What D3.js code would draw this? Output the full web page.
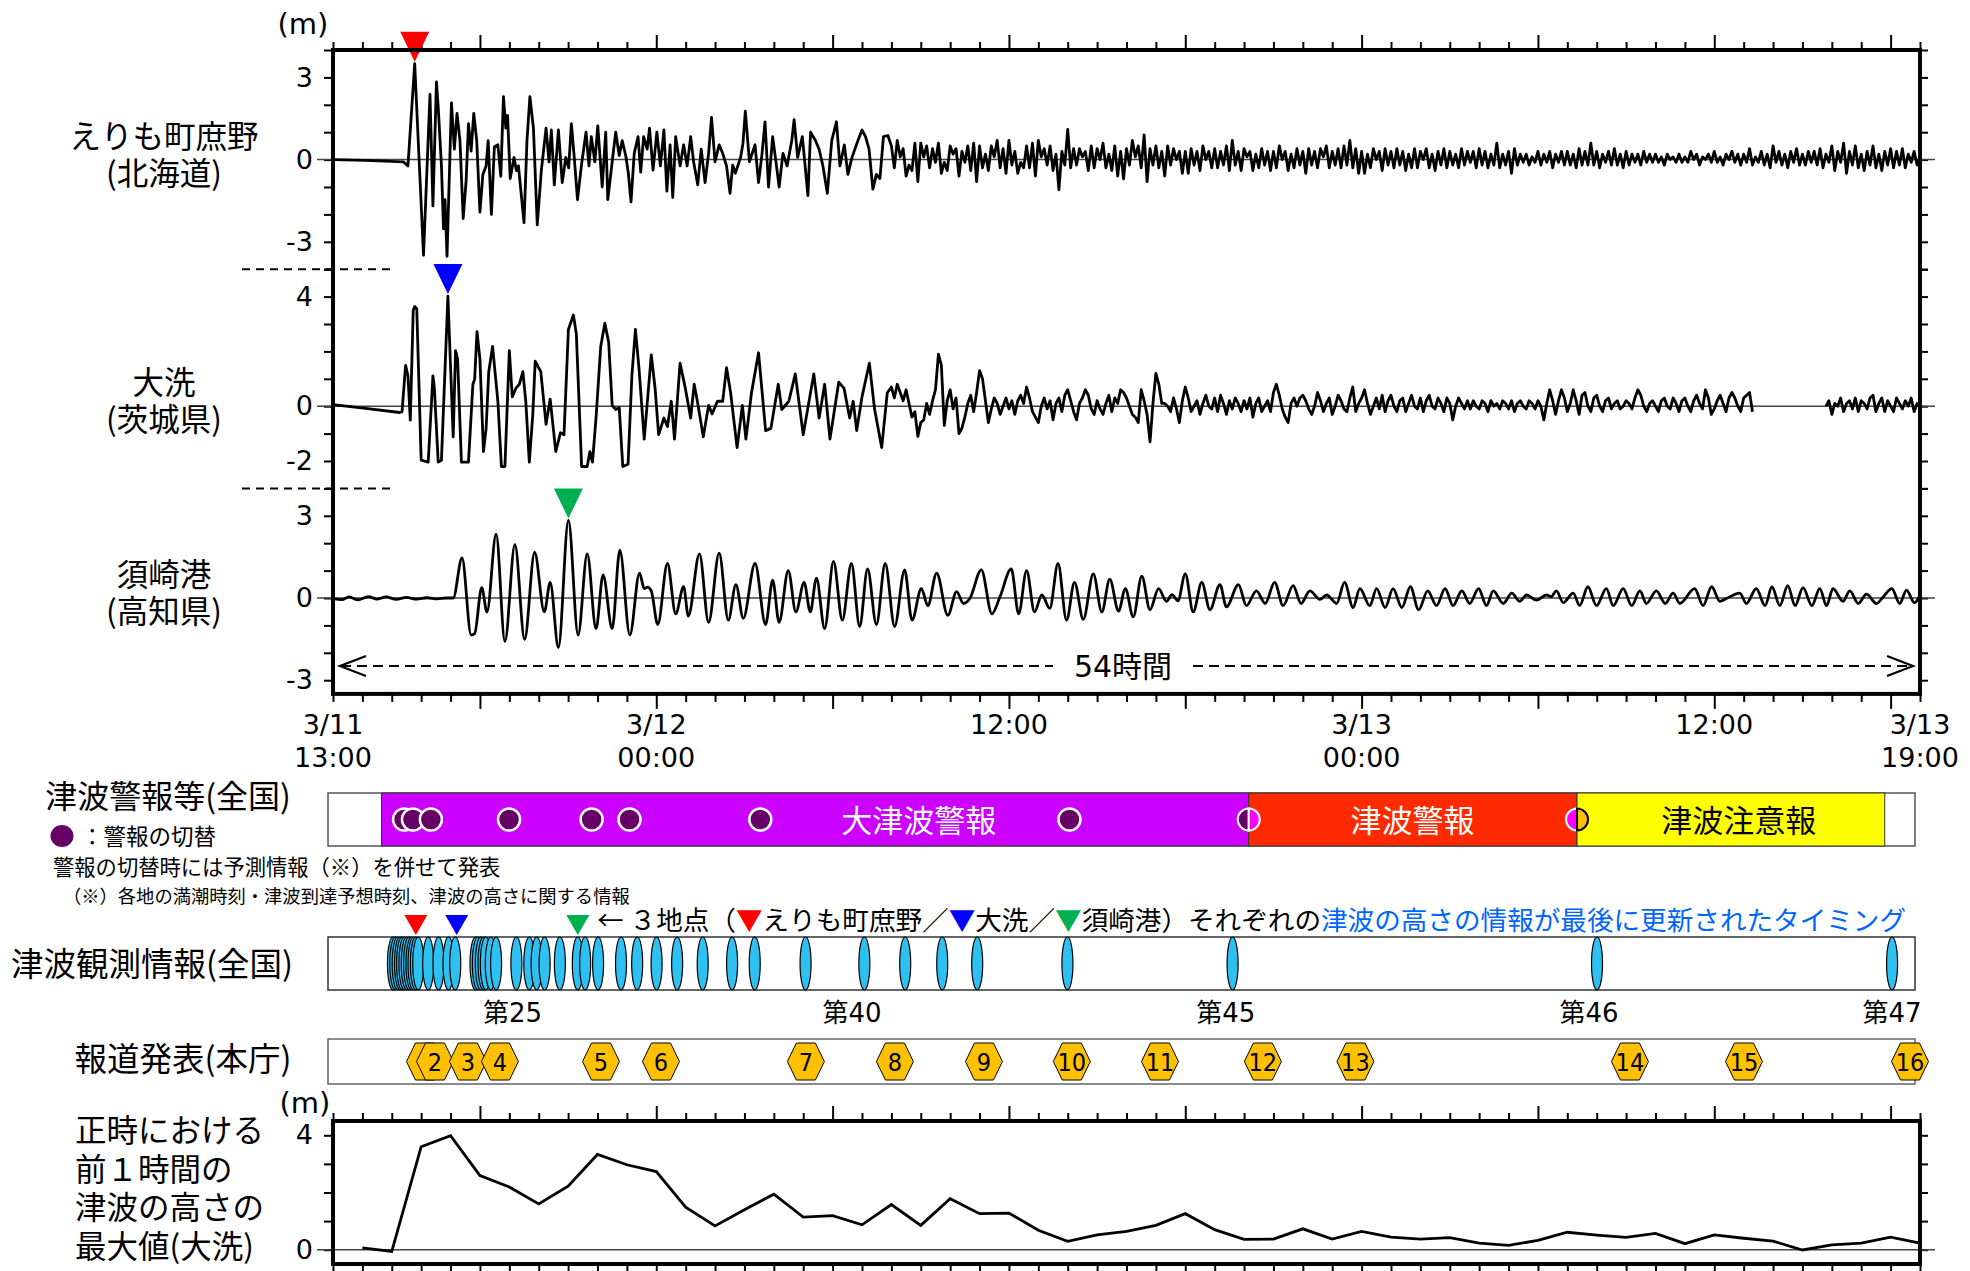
<!DOCTYPE html>
<html>
<head>
<meta charset="utf-8">
<script src="https://cdn.jsdelivr.net/npm/d3@7"></script>
<style>
  body { margin: 0; background: #fff; }
  svg { font-family: 'DejaVu Sans', 'Noto Sans CJK JP', sans-serif; }
  .jp { font-family: 'Noto Sans CJK JP', sans-serif; }
</style>
</head>
<body>
<svg id="chart" width="1970" height="1271"></svg>
<script>
// time is in hours after 3/11 13:00, heights in metres

// えりも町庶野: peaks and troughs
const erimoEarly = [[0,0],[1.12,-0.03],[2.39,-0.08],[2.55,-0.23],[2.78,3.5],[3.08,-3.49],[3.3,2.38],[3.4,-1.69],[3.52,2.84],[3.58,1.92],[3.69,-0.23],[3.76,-2.53],[3.81,-1.46],[3.88,-3.53],[4.03,2.07],[4.13,0.38],[4.22,1.69],[4.32,0.69],[4.43,-2.15],[4.53,-0.77],[4.61,1.31],[4.7,0.31],[4.79,1.69],[4.89,0.69],[5,-1.92],[5.1,-0.54],[5.21,-0.23],[5.28,0.69],[5.39,-2],[5.49,0.46],[5.61,0.54],[5.71,-0.61],[5.8,2.3],[5.88,1.15],[5.94,1.61],[6.03,-0.69],[6.16,0.08],[6.24,-0.4],[6.31,-0.23],[6.5,-2.3],[6.6,0.69],[6.7,2.3],[6.82,1.15],[6.95,-2.38],[7.09,-0.38],[7.25,1.15],[7.35,-0.08],[7.43,1.08],[7.53,-0.92],[7.67,1.08],[7.8,-0.84],[7.92,0.08],[8.02,-0.3],[8.11,1.31],[8.2,0.2],[8.32,-1.46],[8.46,-0.15],[8.61,1],[8.71,-0.23],[8.79,0.84],[8.91,-0.08],[9.01,1.23],[9.16,-1],[9.28,1],[9.35,-1.46],[9.5,-0.08],[9.62,1],[9.74,0.15],[9.84,0.69],[9.96,0.15],[10.05,-0.5],[10.14,-1.54],[10.25,0.23],[10.38,0.84],[10.47,-0.46],[10.57,0.84],[10.69,0.38],[10.77,1.15],[10.89,-0.38],[11.02,1],[11.14,-0.23],[11.26,1.08],[11.36,-1.15],[11.47,0.54],[11.56,-1.38],[11.66,0.84],[11.81,-0.23],[11.93,0.54],[12.05,-0.23],[12.17,0.84],[12.27,-0.08],[12.41,-0.92],[12.53,0.38],[12.66,-0.84],[12.78,0.23],[12.88,1.54],[13,-0.08],[13.14,0.54],[13.26,0.23],[13.39,-0.23],[13.51,-1.23],[13.6,-0.2],[13.69,-0.5],[13.87,0.08],[13.95,0.6],[14.03,1.77],[14.17,-0.08],[14.36,0.54],[14.48,-0.84],[14.6,0.23],[14.7,1.38],[14.82,-1],[14.96,0.84],[15.09,-0.23],[15.18,-1],[15.31,0.23],[15.45,-0.23],[15.61,0.69],[15.69,1.46],[15.81,0.08],[15.97,0.84],[16.16,-1.31],[16.25,1],[16.42,0.69],[16.54,0.38],[16.67,-0.23],[16.82,-1.23],[16.97,0.69],[17.13,1.38],[17.25,-0.23],[17.4,0.54],[17.52,-0.54],[17.66,0.08],[17.86,0.69],[18,1.08],[18.12,0.84],[18.24,0.38],[18.37,-1.08],[18.49,-0.54],[18.61,-0.69],[18.73,0.84],[18.88,0.88]]
// from 3/12 08:00 on, one value every 6 minutes
const erimoLate = [
  0.5,-0.3,0.7,0.1,0.4,-0.6,-0.2,-0.4,0.6,-0.8,
  0.6,0.1,0.5,-0.3,0.4,-0.1,0.6,-0.5,-0.1,-0.4,
  0.5,0.2,0.4,-0.6,0.3,-0.1,0.5,-0.4,0.6,-0.8,
  0.5,-0.3,0.2,-0.4,0.5,0.1,0.7,-0.3,0.4,-0.5,
  0.7,-0.2,0.3,-0.5,-0.1,-0.3,0.5,-0.3,0.6,-0.6,
  0.7,0.1,0.4,-0.2,0.5,-0.4,0.2,-1.1,0.3,-0.2,
  1.1,-0.3,0.4,-0.2,0.4,0.1,0.3,-0.4,0.5,-0.3,
  0.4,0.0,0.6,-0.3,0.2,-0.4,0.5,-0.6,0.3,-0.7,
  0.4,-0.2,0.7,0.1,0.5,-0.3,0.9,-0.8,0.4,-0.2,
  0.5,-0.3,0.3,-0.6,0.5,-0.2,0.4,0.0,0.3,-0.5,
  0.3,-0.5,0.4,-0.2,0.3,-0.4,0.5,0.0,0.3,-0.3,
  0.4,-0.3,0.3,-0.2,0.5,-0.4,0.7,-0.2,0.3,-0.4,
  0.4,0.1,0.3,-0.4,0.2,-0.3,0.4,-0.2,0.3,-0.4,
  0.3,-0.3,0.5,0.0,0.3,-0.4,0.2,-0.3,0.4,-0.2,
  0.3,-0.5,0.4,-0.2,0.3,-0.3,0.4,0.1,0.5,-0.3,
  0.3,-0.2,0.4,-0.3,0.5,-0.2,0.7,-0.3,0.4,-0.5,
  0.3,-0.5,0.2,-0.3,0.4,0.0,0.3,-0.4,0.4,-0.2,
  0.3,-0.3,0.4,-0.2,0.3,-0.4,0.2,-0.3,0.4,-0.3,
  0.3,0.0,0.4,-0.3,0.2,-0.4,0.3,-0.2,0.4,-0.3,
  0.3,-0.2,0.2,-0.3,0.4,-0.2,0.3,-0.1,0.3,-0.3,
  0.4,-0.2,0.3,-0.3,0.2,-0.2,0.6,-0.3,0.2,-0.2,
  0.3,-0.5,0.4,-0.2,0.2,-0.1,0.2,-0.2,0.1,-0.1,
  0.3,-0.2,0.2,-0.1,0.3,-0.3,0.2,-0.1,0.3,-0.2,
  0.3,-0.2,0.2,-0.3,0.4,-0.2,0.3,-0.2,0.6,-0.2,
  0.3,-0.3,0.2,-0.1,0.3,-0.2,0.4,-0.2,0.2,-0.3,
  0.3,-0.2,0.2,-0.1,0.2,-0.2,0.3,-0.1,0.2,-0.1,
  0.2,-0.1,0.1,-0.2,0.2,0.0,0.1,-0.1,0.2,-0.1,
  0.1,-0.1,0.3,0.0,0.2,-0.2,0.1,0.0,0.2,-0.1,
  0.3,-0.1,0.1,-0.2,0.2,0.0,0.3,-0.1,0.2,-0.2,
  0.2,-0.1,0.4,-0.2,0.1,-0.1,0.3,-0.2,0.2,-0.3,
  0.5,-0.1,0.3,-0.2,0.2,-0.3,0.3,-0.1,0.4,-0.2,
  0.2,-0.2,0.3,-0.1,0.3,-0.2,0.4,-0.3,0.2,-0.1,
  0.5,-0.4,0.3,-0.1,0.6,-0.5,0.3,-0.2,0.5,-0.3,
  0.2,-0.4,0.3,-0.2,0.5,-0.3,0.2,-0.4,0.3,-0.2,
  0.4,-0.3,0.3,-0.2,0.4,-0.3,0.2,-0.1,0.3,-0.2,
  0.1]

// 大洗
const oaraiEarly = [[0,0.06],[1.11,-0.08],[2.27,-0.23],[2.35,-0.2],[2.47,1.49],[2.55,1.11],[2.63,-0.51],[2.73,3.5],[2.78,3.64],[2.85,3.56],[3,-1.97],[3.24,-2.04],[3.4,1.11],[3.45,0.65],[3.58,-2.04],[3.69,-1.97],[3.91,4.02],[4.09,-1.12],[4.17,2.03],[4.24,1.72],[4.37,-2.04],[4.61,-2.04],[4.76,0.8],[4.82,0.98],[4.9,2.72],[5,1.72],[5.12,-1.66],[5.21,-0.81],[5.3,1.26],[5.43,2.18],[5.61,0.18],[5.73,-2.2],[5.85,-2.2],[6,2.03],[6.1,0.34],[6.22,0.65],[6.34,0.8],[6.46,1.26],[6.56,0.18],[6.68,-2.04],[6.8,-0.28],[6.88,1.64],[7.07,1.26],[7.25,-0.66],[7.39,0.26],[7.58,-1.66],[7.74,-0.97],[7.86,-1.04],[8.01,2.8],[8.18,3.33],[8.28,2.64],[8.46,-2.2],[8.65,-2.2],[8.74,-1.66],[8.83,-2.04],[8.95,-0.43],[9.11,2.18],[9.25,3.03],[9.38,2.33],[9.5,0.03],[9.62,-0.12],[9.74,-0.05],[9.86,-2.2],[10.04,-2.12],[10.17,1.11],[10.29,2.8],[10.41,1.41],[10.59,-1.2],[10.83,1.87],[10.96,0.65],[11.08,-1.04],[11.26,-0.43],[11.38,-0.74],[11.51,0.18],[11.62,-1.2],[11.81,1.57],[11.99,0.65],[12.17,-0.43],[12.29,0.8],[12.41,0.11],[12.6,-1.12],[12.78,0.03],[12.9,-0.28],[13.08,0.18],[13.26,0.18],[13.39,1.41],[13.53,0.49],[13.75,-1.51],[13.93,0.03],[14.05,-1.2],[14.24,0.49],[14.48,1.95],[14.72,-0.89],[14.9,-0.81],[15.15,0.8],[15.27,-0.12],[15.51,0.18],[15.73,1.18],[16,-1.04],[16.36,1.18],[16.54,-0.43],[16.73,0.8],[16.91,-1.2],[17.21,0.88],[17.39,0.65],[17.58,-0.43],[17.7,0.18],[17.82,-0.89],[18,0.34],[18.25,1.57],[18.43,-0.12],[18.67,-1.51],[18.86,0.49]]
// from 3/12 08:00 on, one value every 6 minutes; null where the gauge has no record
const oaraiLate = [
  0.7,0.3,0.8,0.5,0.2,0.6,0.1,-0.4,-0.2,-1.1,
  -0.6,-0.5,0.1,-0.3,0.2,0.6,1.9,1.5,-0.7,0.2,
  0.6,-0.1,0.3,-1.0,-0.8,-0.4,0.1,0.4,-0.2,0.5,
  1.3,1.0,0.2,-0.6,-0.1,0.3,0.1,-0.3,0.0,0.3,
  -0.1,0.2,-0.3,0.2,0.4,0.1,0.7,0.3,-0.2,-0.4,
  -0.6,0.0,0.3,-0.1,0.2,-0.5,0.1,0.3,-0.2,0.4,
  0.6,0.2,-0.2,-0.5,0.1,0.3,0.6,0.4,-0.1,-0.3,
  0.2,-0.1,-0.3,0.1,0.4,-0.2,0.3,0.1,0.6,0.5,
  0.3,0.0,-0.3,-0.4,-0.6,0.6,0.2,-0.3,-1.3,0.1,
  1.2,0.8,0.1,0.1,0.0,-0.2,0.3,-0.1,-0.6,0.2,
  0.7,0.3,-0.2,0.0,0.2,-0.3,0.1,0.4,0.0,-0.1,
  0.3,-0.2,0.4,0.1,-0.3,0.2,-0.1,0.3,0.1,-0.2,
  0.2,-0.1,0.3,-0.4,0.1,0.3,-0.2,0.0,0.2,-0.2,
  0.5,0.8,0.4,-0.1,-0.4,-0.6,0.1,0.3,0.0,0.3,
  0.4,0.2,-0.1,-0.3,0.0,0.5,0.2,-0.2,0.1,0.3,
  -0.3,0.0,0.4,0.2,-0.1,-0.2,0.3,0.7,-0.2,0.1,
  0.3,0.6,0.1,-0.3,0.0,0.3,-0.1,0.4,-0.2,0.2,
  0.4,0.0,-0.2,0.2,0.3,-0.2,0.1,0.4,0.0,-0.1,
  0.3,-0.2,0.2,0.4,0.0,-0.1,0.3,0.1,-0.2,0.3,
  0.1,-0.5,0.0,0.3,0.1,-0.1,0.2,-0.1,0.2,0.0,
  -0.1,0.2,0.1,-0.2,0.2,0.0,0.1,-0.1,0.2,0.1,
  -0.1,0.2,-0.2,0.1,0.2,0.0,-0.1,0.2,0.1,-0.1,
  0.2,0.0,-0.5,0.1,0.6,0.2,-0.3,0.2,0.6,0.3,
  -0.2,0.1,0.6,0.2,-0.3,0.4,0.5,0.0,-0.2,0.3,
  0.4,0.0,-0.2,0.2,0.3,-0.1,0.1,0.2,-0.1,0.0,
  0.2,0.1,-0.1,0.3,0.6,0.4,0.0,-0.2,0.1,0.2,
  0.0,-0.2,0.2,0.3,0.0,-0.1,0.3,0.1,-0.2,0.2,
  0.3,0.0,-0.2,0.2,0.4,0.1,-0.1,0.6,0.3,-0.3,
  -0.1,0.2,0.4,0.1,-0.2,0.3,0.5,0.3,0.0,-0.2,
  0.3,0.4,0.5,-0.2,null,null,null,null,null,null,
  null,null,null,null,null,null,null,null,null,null,
  null,null,null,null,null,null,null,null,0.0,0.2,
  -0.3,0.1,0.0,0.3,-0.2,0.1,0.2,-0.1,0.3,-0.2,
  0.2,0.1,-0.1,0.3,0.4,-0.2,0.1,0.3,-0.2,0.2,
  0.0,-0.2,0.3,0.1,-0.1,0.2,0.0,0.3,-0.2,0.1,
  0.0]

// 須崎港: crests and troughs
const susaki = [[0,-0.02],[0.3,-0.06],[0.55,0.04],[0.85,-0.07],[1.2,0.05],[1.5,-0.04],[1.8,0.04],[2.15,-0.05],[2.5,0.02],[2.85,-0.04],[3.2,0.01],[3.55,-0.03],[3.85,0],[4.09,0],[4.39,1.46],[4.7,-1.35],[4.82,-1.3],[5.06,0.38],[5.24,-0.51],[5.55,2.33],[5.85,-1.58],[6.19,1.95],[6.52,-1.51],[6.86,1.67],[7.19,-0.51],[7.39,0.57],[7.67,-1.81],[8.01,2.83],[8.34,-1.35],[8.65,1.61],[8.95,-1.12],[9.19,0.84],[9.5,-1.12],[9.76,1.75],[10.1,-1.35],[10.43,0.91],[10.59,0.34],[10.7,0.4],[10.83,0.26],[11.05,-0.97],[11.38,1.26],[11.66,-0.58],[11.93,0.41],[12.09,-0.66],[12.47,1.61],[12.78,-0.89],[13.14,1.64],[13.45,-0.81],[13.71,0.49],[13.96,-0.74],[14.36,1.26],[14.72,-0.97],[14.96,0.65],[15.18,-0.89],[15.49,1],[15.75,-0.51],[16.03,0.57],[16.24,-0.51],[16.45,0.72],[16.73,-1.12],[17.03,1.34],[17.33,-0.81],[17.64,1.26],[17.92,-1.04],[18.19,1.06],[18.49,-0.97],[18.79,1.26],[19.11,-1.04],[19.45,1.03],[19.7,-0.81],[20.02,0.34],[20.24,-0.28],[20.54,0.91],[20.92,-0.63],[21.22,0.23],[21.45,-0.2],[21.67,-0.02],[22.06,1.03],[22.42,-0.58],[22.69,0.03],[23.08,1.06],[23.33,-0.58],[23.6,1],[23.87,-0.51],[24.12,0.11],[24.39,-0.38],[24.67,1.26],[24.96,-0.81],[25.23,0.57],[25.53,-0.78],[25.87,0.88],[26.16,-0.51],[26.43,0.69],[26.73,-0.48],[26.96,0.34],[27.23,-0.69],[27.52,0.8],[27.8,-0.43],[28.09,0.34],[28.36,-0.12],[28.55,0.12],[28.75,-0.1],[29,0.88],[29.27,-0.51],[29.56,0.57],[29.84,-0.43],[30.18,0.49],[30.4,-0.32],[30.81,0.49],[31.08,-0.28],[31.42,0.26],[31.72,-0.2],[32.04,0.57],[32.33,-0.28],[32.67,0.45],[32.94,-0.2],[33.24,0.26],[33.58,-0.05],[33.81,0.11],[34.15,-0.2],[34.42,0.57],[34.71,-0.35],[34.94,0.34],[35.28,-0.28],[35.51,0.34],[35.8,-0.35],[36.07,0.34],[36.37,-0.35],[36.66,0.41],[36.94,-0.43],[37.25,0.26],[37.55,-0.28],[37.84,0.34],[38.11,-0.28],[38.41,0.26],[38.68,-0.2],[38.98,0.34],[39.25,-0.28],[39.48,0.26],[39.82,-0.2],[40.11,0.18],[40.38,-0.12],[40.61,0.11],[40.95,-0.08],[41.29,0.11],[41.45,0.05],[41.63,0.26],[41.86,-0.17],[42.2,0.18],[42.42,-0.28],[42.7,0.41],[42.99,-0.28],[43.33,0.34],[43.56,-0.28],[43.9,0.34],[44.19,-0.28],[44.47,0.26],[44.69,-0.2],[45.03,0.26],[45.33,-0.2],[45.6,0.18],[45.83,-0.2],[46.33,0.34],[46.62,-0.28],[46.91,0.41],[47.19,-0.12],[47.41,-0.02],[47.87,0.18],[48.09,-0.2],[48.43,0.34],[48.73,-0.28],[48.96,0.41],[49.23,-0.28],[49.5,0.45],[49.75,-0.28],[50.02,0.38],[50.32,-0.28],[50.59,0.34],[50.82,-0.28],[51.04,0.34],[51.38,-0.12],[51.61,0.26],[51.9,-0.2],[52.18,0.14],[52.52,-0.2],[52.74,0.03],[53.04,0.34],[53.31,-0.2],[53.54,0.29],[53.81,-0.17],[54,0.1]]

const stationNames = ['えりも町庶野', '大洗', '須崎港']
const stationPrefs = ['(北海道)', '(茨城県)', '(高知県)']
const panelDomains = [[-4, 4], [-3, 5], [-3.5, 4]]
const panelTickLabels = [[3, 0, -3], [4, 0, -2], [3, 0, -3]]
const markColors = ['#ff0000', '#0000ff', '#00b050']

const xTickLabels = [[0, '3/11', '13:00'], [11, '3/12', '00:00'], [23, '12:00', ''], [35, '3/13', '00:00'], [47, '12:00', ''], [54, '3/13', '19:00']]
const majorHours = [5, 11, 17, 23, 29, 35, 41, 47, 53]

// 津波警報等(全国)
const warnNames = ['大津波警報', '津波警報', '津波注意報']
const warnStart = [1.82, 31.33, 42.5]
const warnEnd = [31.33, 42.5, 52.97]
const switchTimes = [2.59, 2.89, 3.5, 6.16, 8.97, 10.26, 14.71, 25.23]
const switchHalfTimes = [31.33, 42.5]

// 津波観測情報(全国), 第1〜第47
const obsTimes = [2.21,2.29,2.37,2.45,2.52,2.6,2.68,2.76,2.84,2.91,2.99,3.07,3.41,3.76,4.1,4.33,5.02,5.1,5.2,5.29,5.37,5.54,5.72,6.41,6.85,7.1,7.37,7.89,8.5,8.75,9.19,9.97,10.52,11.18,11.88,12.75,13.75,14.52,16.25,18.25,19.64,20.9,22.09,25.16,30.78,43.18,53.22]
const obsLabelText = ['第25', '第40', '第45', '第46', '第47']
const obsLabelTimes = [6.28, 17.83, 30.55, 42.91, 53.22]
const lastUpdateTimes = [2.99, 4.38, 8.5]

// 報道発表(本庁) 1〜16
const pressTimes = [3.3, 3.64, 4.76, 5.85, 9.29, 11.33, 16.26, 19.29, 22.32, 25.31, 28.31, 31.81, 34.96, 44.3, 48.18, 53.83]

// 大洗: hourly maximum over the previous hour, 3/11 14:00 .. 3/13 19:00
const hourlyMax = [0.06,-0.06,3.6,3.99,2.59,2.19,1.6,2.22,3.33,2.97,
  2.73,1.49,0.83,1.4,1.94,1.14,1.19,0.87,1.58,0.85,
  1.78,1.26,1.28,0.68,0.29,0.52,0.64,0.85,1.26,0.7,
  0.36,0.37,0.73,0.37,0.64,0.44,0.37,0.42,0.23,0.15,
  0.33,0.61,0.51,0.43,0.57,0.21,0.52,0.4,0.3,-0.01,
  0.17,0.23,0.44,0.23]

const LATE_START = 19
const LATE_STEP = 0.1

const svg = d3.select('#chart')
const x = d3.scaleLinear().domain([0, 54]).range([333, 1920])
const xBar = d3.scaleLinear().domain([0, 54]).range([328, 1915])
const unit = 27.4
const mainTop = 50

function joinSeries (early, late) {
  return early.concat(late.map((v, i) => [LATE_START + i * LATE_STEP, v]))
}
const series = [joinSeries(erimoEarly, erimoLate), joinSeries(oaraiEarly, oaraiLate), susaki]

let cursor = mainTop
const yScales = panelDomains.map(d => {
  const h = (d[1] - d[0]) * unit
  const s = d3.scaleLinear().domain(d).range([cursor + h, cursor])
  cursor += h
  return s
})
const mainBottom = cursor

function hourTicks (g, axisFn, y) {
  const minor = d3.range(0, 55).filter(h => !majorHours.includes(h))
  g.append('g').attr('transform', `translate(0,${y})`)
    .call(axisFn(x).tickValues(minor).tickSize(8).tickFormat(''))
  g.append('g').attr('transform', `translate(0,${y})`)
    .call(axisFn(x).tickValues(majorHours).tickSize(15).tickFormat(''))
}

function styleAxes (sel) {
  sel.selectAll('.domain').remove()
  sel.selectAll('.tick line').attr('stroke', '#000').attr('stroke-width', 2)
  sel.selectAll('.tick text').attr('font-size', 27).attr('fill', '#000')
    .attr('font-family', "'DejaVu Sans', sans-serif")
}

// two-line label as one text element
function twoLines (g, cx, y1, gap, lines, size) {
  const t = g.append('text').attr('x', cx).attr('y', y1)
    .attr('text-anchor', 'middle').attr('font-size', size)
  lines.forEach((s, i) => {
    t.append('tspan').attr('x', cx).attr('dy', i === 0 ? 0 : gap).text(s)
  })
  return t
}

// ---- main three-panel record
const main = svg.append('g')
const axesG = main.append('g')
hourTicks(axesG, d3.axisTop, mainTop)
hourTicks(axesG, d3.axisBottom, mainBottom)

yScales.forEach((y, i) => {
  const d = y.domain()
  const vals = d3.range(Math.ceil(d[0]), Math.floor(d[1]) + 1)
  axesG.append('g').attr('transform', 'translate(333,0)')
    .call(d3.axisLeft(y).tickValues(vals).tickSize(9).tickPadding(11)
      .tickFormat(v => panelTickLabels[i].includes(v) ? String(v) : ''))
  axesG.append('g').attr('transform', 'translate(1920,0)')
    .call(d3.axisRight(y).tickValues(vals).tickSize(8).tickFormat(''))
  main.append('line').attr('x1', 317).attr('x2', 1935)
    .attr('y1', y(0)).attr('y2', y(0)).attr('stroke', '#444').attr('stroke-width', 1.5)
})
styleAxes(axesG)

yScales.forEach((y, i) => {
  const line = d3.line()
    .defined(d => d[1] != null)
    .x(d => x(d[0])).y(d => y(d[1]))
    .curve(i === 2 ? d3.curveMonotoneX : d3.curveLinear)
  main.append('path').datum(series[i]).attr('d', line)
    .attr('fill', 'none').attr('stroke', '#000').attr('stroke-width', 2.8)
    .attr('stroke-linejoin', 'round')

  const peak = d3.greatest(series[i].filter(d => d[1] != null), d => d[1])
  const px = x(peak[0])
  const py = y(peak[1]) - 2
  main.append('path')
    .attr('d', `M${px},${py}L${px - 14.5},${py - 30}L${px + 14.5},${py - 30}Z`)
    .attr('fill', markColors[i])

  twoLines(main, 164, y(0) - 12, 37, [stationNames[i], stationPrefs[i]], 31.5)
    .attr('class', 'jp')

  if (i < 2) {
    main.append('line').attr('x1', 242).attr('x2', 396)
      .attr('y1', y.range()[0]).attr('y2', y.range()[0])
      .attr('stroke', '#000').attr('stroke-width', 2).attr('stroke-dasharray', '8,6')
  }
})

main.append('rect').attr('x', 333).attr('y', mainTop)
  .attr('width', 1587).attr('height', mainBottom - mainTop)
  .attr('fill', 'none').attr('stroke', '#000').attr('stroke-width', 4)

main.append('text').attr('x', 303).attr('y', 34).attr('text-anchor', 'middle')
  .attr('font-size', 29).text('(m)')

// 54時間 arrow
const arrowY = 666
main.append('line').attr('x1', 341).attr('x2', 1053).attr('y1', arrowY).attr('y2', arrowY)
  .attr('stroke', '#000').attr('stroke-width', 2.2).attr('stroke-dasharray', '10,6')
main.append('line').attr('x1', 1193).attr('x2', 1912).attr('y1', arrowY).attr('y2', arrowY)
  .attr('stroke', '#000').attr('stroke-width', 2.2).attr('stroke-dasharray', '10,6')
main.append('path').attr('d', `M366,${arrowY - 10}L340,${arrowY}L366,${arrowY + 10}`)
  .attr('fill', 'none').attr('stroke', '#000').attr('stroke-width', 2.2)
main.append('path').attr('d', `M1887,${arrowY - 10}L1913,${arrowY}L1887,${arrowY + 10}`)
  .attr('fill', 'none').attr('stroke', '#000').attr('stroke-width', 2.2)
main.append('text').attr('x', 1123).attr('y', arrowY + 11).attr('text-anchor', 'middle')
  .attr('font-size', 30).text('54時間')

// x labels
xTickLabels.forEach(([h, a, b]) => {
  twoLines(main, x(h), 734, 33, b ? [a, b] : [a], 27)
})

// ---- 津波警報等(全国)
const warn = svg.append('g')
const wTop = 793, wH = 53, wMid = wTop + wH / 2
warn.append('text').attr('class', 'jp').attr('x', 168).attr('y', 808).attr('text-anchor', 'middle')
  .attr('font-size', 32).text('津波警報等(全国)')
warn.append('ellipse').attr('cx', 62).attr('cy', 836).attr('rx', 11.5).attr('ry', 11)
  .attr('fill', '#660066')
warn.append('text').attr('class', 'jp').attr('x', 81).attr('y', 845).attr('font-size', 22.5).text('：警報の切替')
warn.append('text').attr('class', 'jp').attr('x', 53).attr('y', 875).attr('font-size', 21.3)
  .text('警報の切替時には予測情報（※）を併せて発表')
warn.append('text').attr('class', 'jp').attr('x', 63).attr('y', 903).attr('font-size', 18.3)
  .text('（※）各地の満潮時刻・津波到達予想時刻、津波の高さに関する情報')

warn.append('rect').attr('x', xBar(0)).attr('y', wTop).attr('width', xBar(54) - xBar(0))
  .attr('height', wH).attr('fill', '#fff').attr('stroke', '#555').attr('stroke-width', 1.5)
const warnColors = ['#cc00ff', '#ff2a00', '#ffff00']
const warnTextColors = ['#fff', '#fff', '#000']
const warnLabelAt = [20.1, 36.9, 48.0]
warnNames.forEach((n, i) => {
  warn.append('rect').attr('x', xBar(warnStart[i])).attr('y', wTop)
    .attr('width', xBar(warnEnd[i]) - xBar(warnStart[i])).attr('height', wH)
    .attr('fill', warnColors[i]).attr('stroke', '#333').attr('stroke-width', 1)
  warn.append('text').attr('class', 'jp').attr('x', xBar(warnLabelAt[i])).attr('y', wMid + 12)
    .attr('text-anchor', 'middle').attr('font-size', 31).attr('fill', warnTextColors[i]).text(n)
})
warn.selectAll('circle.sw').data(switchTimes).enter().append('circle')
  .attr('cx', d => xBar(d)).attr('cy', wMid).attr('r', 11)
  .attr('fill', '#660066').attr('stroke', '#fff').attr('stroke-width', 2.5)
const halfColors = [['#660066', '#ff00ff'], ['#ff00ff', '#ffc000']]
const halfStroke = [['#fff', '#fff'], ['#fff', '#000']]
switchHalfTimes.forEach((t, i) => {
  const cx = xBar(t)
  const r = 11
  warn.append('path').attr('d', `M${cx},${wMid - r}A${r},${r} 0 0 0 ${cx},${wMid + r}Z`)
    .attr('fill', halfColors[i][0]).attr('stroke', halfStroke[i][0]).attr('stroke-width', 2)
  warn.append('path').attr('d', `M${cx},${wMid - r}A${r},${r} 0 0 1 ${cx},${wMid + r}Z`)
    .attr('fill', halfColors[i][1]).attr('stroke', halfStroke[i][1]).attr('stroke-width', 2)
})

// ---- 津波観測情報(全国)
const obs = svg.append('g')
const oTop = 937, oH = 53, oMid = oTop + oH / 2
obs.append('text').attr('class', 'jp').attr('x', 152).attr('y', 976).attr('text-anchor', 'middle')
  .attr('font-size', 32.5).text('津波観測情報(全国)')
obs.append('rect').attr('x', xBar(0)).attr('y', oTop).attr('width', xBar(54) - xBar(0))
  .attr('height', oH).attr('fill', '#fff').attr('stroke', '#333').attr('stroke-width', 1.5)
obs.selectAll('ellipse').data(obsTimes).enter().append('ellipse')
  .attr('cx', d => xBar(d)).attr('cy', oMid).attr('rx', 5.5).attr('ry', oH / 2)
  .attr('fill', '#2ec0f0').attr('stroke', '#000').attr('stroke-width', 1.2)
obsLabelText.forEach((t, i) => {
  obs.append('text').attr('x', xBar(obsLabelTimes[i])).attr('y', 1022)
    .attr('text-anchor', 'middle').attr('font-size', 26).text(t)
})
lastUpdateTimes.forEach((t, i) => {
  const cx = xBar(t)
  obs.append('path').attr('d', `M${cx},935L${cx - 11.5},915L${cx + 11.5},915Z`)
    .attr('fill', markColors[i])
})
const note = obs.append('text').attr('class', 'jp').attr('x', 597).attr('y', 930).attr('font-size', 26.6)
note.append('tspan').text('← ３地点（')
note.append('tspan').attr('fill', markColors[0]).text('▼')
note.append('tspan').text('えりも町庶野／')
note.append('tspan').attr('fill', markColors[1]).text('▼')
note.append('tspan').text('大洗／')
note.append('tspan').attr('fill', markColors[2]).text('▼')
note.append('tspan').text('須崎港）それぞれの')
note.append('tspan').attr('fill', '#0066ff').text('津波の高さの情報が最後に更新されたタイミング')

// ---- 報道発表(本庁)
const press = svg.append('g')
const pTop = 1039, pH = 45, pMid = pTop + pH / 2
press.append('text').attr('class', 'jp').attr('x', 183).attr('y', 1071).attr('text-anchor', 'middle')
  .attr('font-size', 32.5).text('報道発表(本庁)')
press.append('rect').attr('x', xBar(0)).attr('y', pTop).attr('width', xBar(54) - xBar(0))
  .attr('height', pH).attr('fill', '#fff').attr('stroke', '#666').attr('stroke-width', 1.5)
pressTimes.forEach((t, i) => {
  const cx = xBar(t)
  const hw = 18.5, tw = 9.5, hh = 18.5
  press.append('path')
    .attr('d', `M${cx - hw},${pMid}L${cx - tw},${pMid - hh}L${cx + tw},${pMid - hh}L${cx + hw},${pMid}L${cx + tw},${pMid + hh}L${cx - tw},${pMid + hh}Z`)
    .attr('fill', '#ffc000').attr('stroke', '#000').attr('stroke-width', 1)
  // the first badge is hidden under the second, so its number is not drawn
  if (i > 0) {
    press.append('text').attr('x', cx).attr('y', pMid + 9).attr('text-anchor', 'middle')
      .attr('font-family', "'DejaVu Sans Condensed', 'DejaVu Sans', sans-serif")
      .attr('font-size', 25).text(i + 1)
  }
})

// ---- hourly maximum at 大洗
const bot = svg.append('g')
const bTop = 1121, bBottom = 1264
const yb = d3.scaleLinear().domain([-0.5, 4.5]).range([bBottom, bTop])
const botAxes = bot.append('g')
hourTicks(botAxes, d3.axisTop, bTop)
hourTicks(botAxes, d3.axisBottom, bBottom)
botAxes.append('g').attr('transform', 'translate(333,0)')
  .call(d3.axisLeft(yb).tickValues([0, 1, 2, 3, 4]).tickSize(9).tickPadding(11)
    .tickFormat(v => (v === 0 || v === 4) ? String(v) : ''))
botAxes.append('g').attr('transform', 'translate(1920,0)')
  .call(d3.axisRight(yb).tickValues([0, 1, 2, 3, 4]).tickSize(8).tickFormat(''))
styleAxes(botAxes)
bot.append('line').attr('x1', 317).attr('x2', 1935).attr('y1', yb(0)).attr('y2', yb(0))
  .attr('stroke', '#444').attr('stroke-width', 1.5)
bot.append('path').datum(hourlyMax.map((v, i) => [i + 1, v]))
  .attr('d', d3.line().x(d => x(d[0])).y(d => yb(d[1])))
  .attr('fill', 'none').attr('stroke', '#000').attr('stroke-width', 2.8)
bot.append('rect').attr('x', 333).attr('y', bTop).attr('width', 1587).attr('height', bBottom - bTop)
  .attr('fill', 'none').attr('stroke', '#000').attr('stroke-width', 4)
bot.append('text').attr('x', 305).attr('y', 1113).attr('text-anchor', 'middle')
  .attr('font-size', 29).text('(m)')
const botTitle = ['正時における', '前１時間の', '津波の高さの', '最大値(大洗)']
const bt = bot.append('text').attr('class', 'jp').attr('x', 75).attr('y', 1142).attr('font-size', 31.5)
botTitle.forEach((t, i) => {
  bt.append('tspan').attr('x', 75).attr('dy', i === 0 ? 0 : 38.5).text(t)
})
</script>
</body>
</html>
